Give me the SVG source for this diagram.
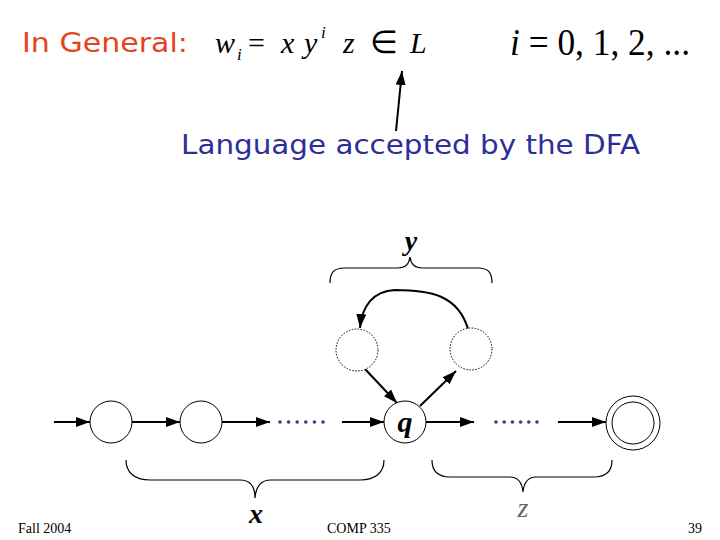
<svg xmlns="http://www.w3.org/2000/svg" width="720" height="540" viewBox="0 0 720 540">
<defs>
<marker id="ah" viewBox="0 0 14 10" refX="14" refY="5" markerWidth="14" markerHeight="10" markerUnits="userSpaceOnUse" orient="auto">
<path d="M0,0 L14,5 L0,10 Z" fill="#000"/>
</marker>
<style>
.st{fill:#fff;stroke:#000;stroke-width:1}
.dt{fill:#fff;stroke:#000;stroke-width:1;stroke-dasharray:1.5 1.5}
.ed{fill:none;stroke:#000;stroke-width:2;marker-end:url(#ah)}
.br{fill:none;stroke:#000;stroke-width:1.2}
.m{font-family:"Liberation Serif",serif;font-style:italic;fill:#000}
.dot{fill:#3a3a8a}
.ft{font-family:"Liberation Serif",serif;font-size:14px;fill:#000}
</style>
</defs>
<rect width="720" height="540" fill="#fff"/>
<g id="header">
<text x="22" y="52" font-family="DejaVu Sans, sans-serif" font-size="26" fill="#e3441e" textLength="166" lengthAdjust="spacingAndGlyphs">In General:</text>
<text class="m" x="215" y="53" font-size="30">w</text>
<text class="m" x="237" y="60" font-size="17">i</text>
<text x="248" y="53" font-family="Liberation Serif,serif" font-size="30">=</text>
<text class="m" x="281" y="53" font-size="30">x</text>
<text class="m" x="304" y="53" font-size="30">y</text>
<text class="m" x="321" y="38" font-size="17">i</text>
<text class="m" x="343" y="53" font-size="30">z</text>
<text x="370" y="53" font-family="DejaVu Sans,sans-serif" font-size="32">∈</text>
<text class="m" x="410" y="53" font-size="30">L</text>
<text x="510" y="55" font-family="Liberation Serif,serif" font-size="37" textLength="180" lengthAdjust="spacingAndGlyphs"><tspan font-style="italic">i</tspan> = 0, 1, 2, ...</text>
</g>
<g id="label-language">
<text x="181" y="154" font-family="DejaVu Sans, sans-serif" font-size="26" fill="#2e2e9a" textLength="459" lengthAdjust="spacingAndGlyphs">Language accepted by the DFA</text>
</g>
<g id="connectors">
<line class="ed" x1="396" y1="131" x2="402" y2="71"/>
<line class="ed" x1="54" y1="422" x2="90" y2="422"/>
<line class="ed" x1="132" y1="422" x2="180" y2="422"/>
<line class="ed" x1="222" y1="422" x2="270" y2="422"/>
<line class="ed" x1="342" y1="422" x2="384" y2="422"/>
<line class="ed" x1="426" y1="422" x2="474" y2="422"/>
<line class="ed" x1="558" y1="422" x2="606" y2="422"/>
<line class="ed" x1="365" y1="369" x2="397" y2="403"/>
<line class="ed" x1="420" y1="406" x2="456" y2="371"/>
<path class="ed" d="M468,329 C458,295 430,290 395,290 C373,291 362,306 360,328"/>
</g>
<g id="dots1">
<circle class="dot" cx="280" cy="422" r="1.8"/><circle class="dot" cx="288.6" cy="422" r="1.8"/><circle class="dot" cx="297.2" cy="422" r="1.8"/><circle class="dot" cx="305.8" cy="422" r="1.8"/><circle class="dot" cx="314.4" cy="422" r="1.8"/><circle class="dot" cx="323" cy="422" r="1.8"/>
</g>
<g id="dots2">
<circle class="dot" cx="496" cy="422" r="1.8"/><circle class="dot" cx="504.2" cy="422" r="1.8"/><circle class="dot" cx="512.4" cy="422" r="1.8"/><circle class="dot" cx="520.6" cy="422" r="1.8"/><circle class="dot" cx="528.8" cy="422" r="1.8"/><circle class="dot" cx="537" cy="422" r="1.8"/>
</g>
<g id="s1"><circle class="st" cx="111" cy="422" r="21"/></g>
<g id="s2"><circle class="st" cx="201" cy="422" r="21"/></g>
<g id="q"><circle class="st" cx="405" cy="422" r="21"/>
<text class="m" x="405" y="432" font-size="30" font-weight="bold" text-anchor="middle">q</text></g>
<g id="d1"><circle class="dt" cx="357" cy="350" r="21"/></g>
<g id="d2"><circle class="dt" cx="471" cy="349" r="21"/></g>
<g id="final"><circle class="st" cx="633" cy="423" r="27"/><circle class="st" cx="633" cy="423" r="21"/></g>
<g id="brace-y">
<path class="br" d="M330,283 C330,272 334,268 345,268 L398,268 C405,268 409,265 410,257 C411,265 415,268 422,268 L478,268 C488,268 492,272 492,283"/>
<text class="m" x="411" y="250" font-size="28" font-weight="bold" text-anchor="middle">y</text>
</g>
<g id="brace-x">
<path class="br" d="M126,460 C126,472 134,480 150,480 L240,480 C250,480 255,486 255,498 C256,486 261,480 271,480 L360,480 C376,480 384,472 384,460"/>
<text class="m" x="256" y="523" font-size="28" font-weight="bold" text-anchor="middle">x</text>
</g>
<g id="brace-z">
<path class="br" d="M432,460 C432,471 438,477 450,477 L510,477 C518,477 522,482 523,492 C524,482 528,477 536,477 L594,477 C606,477 612,471 612,460"/>
<text class="m" x="523" y="517" font-size="28" text-anchor="middle" style="fill:#666">z</text>
</g>
<g id="footer">
<text class="ft" x="18" y="533">Fall 2004</text>
<text class="ft" x="327" y="533">COMP 335</text>
<text class="ft" x="702" y="533" text-anchor="end">39</text>
</g>
</svg>
